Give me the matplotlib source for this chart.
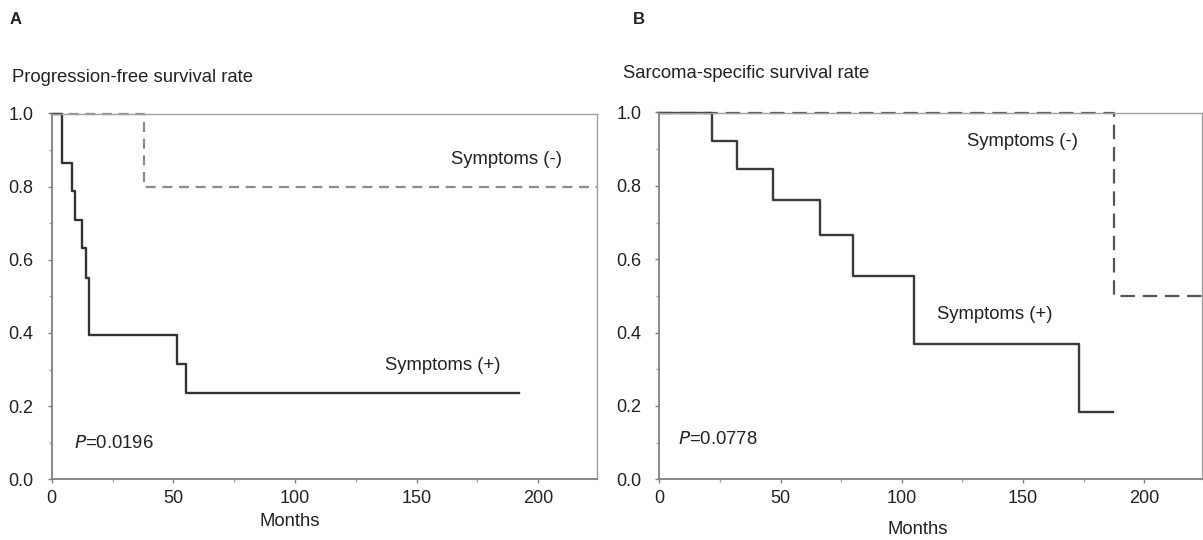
import matplotlib
matplotlib.use("Agg")
import matplotlib.pyplot as plt
from matplotlib.ticker import MultipleLocator

plt.rcParams['font.family'] = ['Liberation Sans', 'DejaVu Sans']

# Kaplan-Meier steps (months, survival)
a_plus_t = [0, 4.1, 8.5, 9.5, 12.5, 14.2, 15.3, 51.4, 55.3, 192]
a_plus_s = [1.0, 0.866, 0.788, 0.710, 0.633, 0.550, 0.395, 0.315, 0.236, 0.236]
a_minus_t = [0, 38, 224]
a_minus_s = [1.0, 0.8, 0.8]

b_plus_t = [0, 21.8, 32.2, 46.9, 66.2, 80, 105, 173, 187]
b_plus_s = [1.0, 0.923, 0.846, 0.762, 0.666, 0.555, 0.369, 0.184, 0.184]
b_minus_t = [0, 187.5, 224]
b_minus_s = [1.0, 0.5, 0.5]

W, H = 1203, 540
fig = plt.figure(figsize=(W / 100, H / 100), dpi=100)

def px(x0, y0, x1, y1):
    # pixel box -> figure fraction
    return [x0 / W, 1 - y1 / H, (x1 - x0) / W, (y1 - y0) / H]

axA = fig.add_axes(px(51.7, 113.5, 596.7, 479.3))
axB = fig.add_axes(px(659.3, 112.5, 1202.3, 479.3))

txt = '#222222'
fs = 13.3

def style(ax):
    ax.set_xlim(0, 224)
    ax.set_ylim(0, 1)
    ax.xaxis.set_major_locator(MultipleLocator(50))
    ax.xaxis.set_minor_locator(MultipleLocator(25))
    ax.yaxis.set_major_locator(MultipleLocator(0.2))
    ax.yaxis.set_minor_locator(MultipleLocator(0.1))
    ax.yaxis.set_major_formatter(plt.FuncFormatter(lambda v, p: f'{v:.1f}'))
    for s in ['left', 'bottom']:
        ax.spines[s].set_color('#808080')
        ax.spines[s].set_linewidth(1.3)
    for s in ['top', 'right']:
        ax.spines[s].set_color('#a0a0a0')
        ax.spines[s].set_linewidth(1.0)
    ax.tick_params(which='major', length=3, width=1, color='#808080',
                   labelsize=13, labelcolor=txt)
    ax.tick_params(axis='x', which='major', pad=5)
    ax.tick_params(axis='y', which='major', pad=10)
    ax.tick_params(which='minor', length=2, width=1, color='#a0a0a0')
    ax.set_xlabel('Months', fontsize=fs, color=txt, va='center')

style(axA)
style(axB)

axA.step(a_minus_t, a_minus_s, where='post', color='#8c8c8c', lw=1.6,
         dashes=(4.5, 3), clip_on=False)
axA.step(a_plus_t, a_plus_s, where='post', color='#333333', lw=1.7,
         clip_on=False)

axB.step(b_minus_t, b_minus_s, where='post', color='#555555', lw=1.6,
         dashes=(6.5, 3.5), clip_on=False)
axB.step(b_plus_t, b_plus_s, where='post', color='#3a3a3a', lw=1.7,
         clip_on=False)

axA.text(164, 0.874, 'Symptoms (-)', fontsize=fs, color=txt, va='center')
axA.text(137, 0.312, 'Symptoms (+)', fontsize=fs, color=txt, va='center')
axA.text(9, 0.098, r'$\it{P}$=0.0196', fontsize=fs, color=txt, va='center')

axB.text(127, 0.92, 'Symptoms (-)', fontsize=fs, color=txt, va='center')
axB.text(114.5, 0.448, 'Symptoms (+)', fontsize=fs, color=txt, va='center')
axB.text(7.6, 0.109, r'$\it{P}$=0.0778', fontsize=fs, color=txt, va='center')

# "Months" centres in pixels: A (290, 521), B (918, 530)
axA.xaxis.set_label_coords((290 - 51.7) / 545, -(521 - 479.3) / 365.8)
axB.xaxis.set_label_coords((918 - 659.3) / 543, -(530 - 479.3) / 366.8)

fig.text(10 / W, 1 - 20 / H, 'A', fontsize=12, fontweight='bold', color=txt, va='center')
fig.text(633 / W, 1 - 19 / H, 'B', fontsize=12, fontweight='bold', color=txt, va='center')
fig.text(12 / W, 1 - 77 / H, 'Progression-free survival rate', fontsize=fs,
         color=txt, va='center')
fig.text(622.7 / W, 1 - 73.3 / H, 'Sarcoma-specific survival rate', fontsize=fs,
         color=txt, va='center')

fig.savefig('out.png', dpi=100)
